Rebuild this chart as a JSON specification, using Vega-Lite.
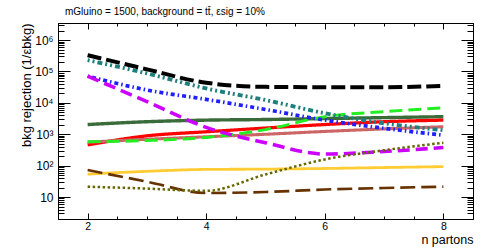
{
  "$schema": "https://vega.github.io/schema/vega-lite/v6.json",
  "width": 415,
  "height": 196,
  "autosize": {"type": "none"},
  "padding": {"left": 58, "top": 23, "right": 15, "bottom": 33},
  "config": {
    "font": "Liberation Sans",
    "view": {"stroke": "#000000", "strokeWidth": 1},
    "axis": {"grid": false, "domainColor": "#000000", "tickColor": "#000000", "labelColor": "#000000", "titleColor": "#000000", "labelFont": "Liberation Sans", "titleFont": "Liberation Sans", "titleFontWeight": "normal", "labelOverlap": false, "labelFlush": false}
  },
  "title": {"text": "mGluino = 1500, background = tt̄, εsig = 10%", "anchor": "start", "frame": "group", "fontSize": 10, "fontWeight": "normal", "font": "Liberation Sans", "color": "#000000", "offset": 6, "baseline": "alphabetic", "dx": 7, "dy": 12},
  "data": {"values": [
    {"n": 2, "s": "s01", "v": 331000}, {"n": 3, "s": "s01", "v": 117000}, {"n": 4, "s": "s01", "v": 43600}, {"n": 5, "s": "s01", "v": 32400}, {"n": 6, "s": "s01", "v": 31600}, {"n": 7, "s": "s01", "v": 31600}, {"n": 8, "s": "s01", "v": 34700},
    {"n": 2, "s": "s02", "v": 229000}, {"n": 3, "s": "s02", "v": 87100}, {"n": 4, "s": "s02", "v": 28800}, {"n": 5, "s": "s02", "v": 12300}, {"n": 6, "s": "s02", "v": 4680}, {"n": 7, "s": "s02", "v": 2240}, {"n": 8, "s": "s02", "v": 1350},
    {"n": 2, "s": "s03", "v": 70800}, {"n": 3, "s": "s03", "v": 25700}, {"n": 4, "s": "s03", "v": 12900}, {"n": 5, "s": "s03", "v": 6170}, {"n": 6, "s": "s03", "v": 2820}, {"n": 7, "s": "s03", "v": 1550}, {"n": 8, "s": "s03", "v": 933},
    {"n": 2, "s": "s04", "v": 70800}, {"n": 3, "s": "s04", "v": 11000}, {"n": 4, "s": "s04", "v": 1660}, {"n": 5, "s": "s04", "v": 537}, {"n": 6, "s": "s04", "v": 234}, {"n": 7, "s": "s04", "v": 282}, {"n": 8, "s": "s04", "v": 380},
    {"n": 2, "s": "s05", "v": 2040}, {"n": 3, "s": "s05", "v": 2510}, {"n": 4, "s": "s05", "v": 2820}, {"n": 5, "s": "s05", "v": 2950}, {"n": 6, "s": "s05", "v": 3160}, {"n": 7, "s": "s05", "v": 3390}, {"n": 8, "s": "s05", "v": 3630},
    {"n": 2, "s": "s06", "v": 457}, {"n": 3, "s": "s06", "v": 891}, {"n": 4, "s": "s06", "v": 1200}, {"n": 5, "s": "s06", "v": 1580}, {"n": 6, "s": "s06", "v": 2040}, {"n": 7, "s": "s06", "v": 2510}, {"n": 8, "s": "s06", "v": 2820},
    {"n": 2, "s": "s07", "v": 562}, {"n": 3, "s": "s07", "v": 692}, {"n": 4, "s": "s07", "v": 832}, {"n": 5, "s": "s07", "v": 1000}, {"n": 6, "s": "s07", "v": 1230}, {"n": 7, "s": "s07", "v": 1480}, {"n": 8, "s": "s07", "v": 1740},
    {"n": 2, "s": "s08", "v": 575}, {"n": 3, "s": "s08", "v": 631}, {"n": 4, "s": "s08", "v": 794}, {"n": 5, "s": "s08", "v": 1410}, {"n": 6, "s": "s08", "v": 3630}, {"n": 7, "s": "s08", "v": 5250}, {"n": 8, "s": "s08", "v": 6920},
    {"n": 2, "s": "s09", "v": 53.7}, {"n": 3, "s": "s09", "v": 66.1}, {"n": 4, "s": "s09", "v": 75.9}, {"n": 5, "s": "s09", "v": 77.6}, {"n": 6, "s": "s09", "v": 81.3}, {"n": 7, "s": "s09", "v": 87.1}, {"n": 8, "s": "s09", "v": 93.3},
    {"n": 2, "s": "s10", "v": 72.4}, {"n": 3, "s": "s10", "v": 30.9}, {"n": 4, "s": "s10", "v": 13.5}, {"n": 5, "s": "s10", "v": 14.5}, {"n": 6, "s": "s10", "v": 17.4}, {"n": 7, "s": "s10", "v": 19.5}, {"n": 8, "s": "s10", "v": 21.4},
    {"n": 2, "s": "s11", "v": 21.4}, {"n": 3, "s": "s11", "v": 18.6}, {"n": 4, "s": "s11", "v": 15.8}, {"n": 5, "s": "s11", "v": 52.5}, {"n": 6, "s": "s11", "v": 158}, {"n": 7, "s": "s11", "v": 309}, {"n": 8, "s": "s11", "v": 537}
  ]},
  "resolve": {"axis": {"x": "independent", "y": "independent"}},
  "layer": [
    {
      "transform": [{"filter": {"field": "s", "oneOf": ["s05", "s06", "s07", "s08", "s09", "s10"]}}],
      "mark": {"type": "line", "interpolate": "monotone", "clip": true},
      "encoding": {
        "x": {"field": "n", "type": "quantitative", "scale": {"domain": [1.5, 8.5], "nice": false, "zero": false},
          "axis": {"orient": "bottom", "values": [2, 2.5, 3, 3.5, 4, 4.5, 5, 5.5, 6, 6.5, 7, 7.5, 8],
            "tickSize": {"expr": "(datum.value % 2 == 0 ? -6 : -3)"},
            "labelExpr": "datum.value % 2 == 0 ? format(datum.value, 'd') : ''", "labelFontSize": 10.5, "labelPadding": 8, "labelBaseline": "top",
            "title": "n partons", "titleFontSize": 12.5, "titleAnchor": "end", "titleAlign": "right", "titleBaseline": "alphabetic", "titleX": 415, "titleY": 24}},
        "y": {"field": "v", "type": "quantitative", "scale": {"type": "log", "domain": [2, 3500000], "nice": false},
          "axis": {"orient": "left", "values": [2,3,4,5,6,7,8,9,10,20,30,40,50,60,70,80,90,100,200,300,400,500,600,700,800,900,1000,2000,3000,4000,5000,6000,7000,8000,9000,10000,20000,30000,40000,50000,60000,70000,80000,90000,100000,200000,300000,400000,500000,600000,700000,800000,900000,1000000,2000000,3000000],
            "tickSize": {"expr": "(indexof([10,100,1000,10000,100000,1000000], datum.value) >= 0 ? -12 : -6)"},
            "labelExpr": "datum.value == 10 ? '10' : datum.value == 100 ? '10²' : datum.value == 1000 ? '10³' : datum.value == 10000 ? '10⁴' : datum.value == 100000 ? '10⁵' : datum.value == 1000000 ? '10⁶' : ''",
            "labelFontSize": 12, "labelPadding": 17,
            "title": "bkg rejection (1/εbkg)", "titleFontSize": 13, "titleAngle": 270, "titleAlign": "right", "titleBaseline": "alphabetic", "titleX": -28, "titleY": 0}},
        "color": {"field": "s", "type": "nominal", "legend": null, "scale": {"domain": ["s01","s02","s03","s04","s05","s06","s07","s08","s09","s10","s11"], "range": ["#000000","#1f7f7f","#1f1fff","#cc00ff","#3a6b3a","#ff0000","#cc6666","#22ee22","#ffcc33","#663300","#666600"]}},
        "strokeDash": {"field": "s", "type": "nominal", "legend": null, "scale": {"domain": ["s01","s02","s03","s04","s05","s06","s07","s08","s09","s10","s11"], "range": [[14,5],[2,3,2,3,5,3],[1.5,3,4,3],[12,6],[1,0],[1,0],[1,0],[13,6],[1,0],[15,6],[2.5,2.5]]}},
        "strokeWidth": {"field": "s", "type": "nominal", "legend": null, "scale": {"domain": ["s01","s02","s03","s04","s05","s06","s07","s08","s09","s10","s11"], "range": [4,2.5,2.5,2.5,2,2,2,2.5,2,2.5,2.5]}}
      }
    },
    {
      "transform": [{"filter": {"field": "s", "oneOf": ["s11", "s04", "s03", "s02", "s01"]}}],
      "mark": {"type": "line", "interpolate": "monotone", "clip": true},
      "encoding": {
        "x": {"field": "n", "type": "quantitative", "scale": {"domain": [1.5, 8.5], "nice": false, "zero": false},
          "axis": {"orient": "top", "values": [2, 2.5, 3, 3.5, 4, 4.5, 5, 5.5, 6, 6.5, 7, 7.5, 8],
            "tickSize": {"expr": "(datum.value % 2 == 0 ? -6 : -3)"},
            "labels": false, "title": null}},
        "y": {"field": "v", "type": "quantitative", "scale": {"type": "log", "domain": [2, 3500000], "nice": false},
          "axis": {"orient": "right", "values": [2,3,4,5,6,7,8,9,10,20,30,40,50,60,70,80,90,100,200,300,400,500,600,700,800,900,1000,2000,3000,4000,5000,6000,7000,8000,9000,10000,20000,30000,40000,50000,60000,70000,80000,90000,100000,200000,300000,400000,500000,600000,700000,800000,900000,1000000,2000000,3000000],
            "tickSize": {"expr": "(indexof([10,100,1000,10000,100000,1000000], datum.value) >= 0 ? -12 : -6)"},
            "labels": false, "title": null}},
        "color": {"field": "s", "type": "nominal", "legend": null},
        "strokeDash": {"field": "s", "type": "nominal", "legend": null},
        "strokeWidth": {"field": "s", "type": "nominal", "legend": null}
      }
    }
  ]
}
